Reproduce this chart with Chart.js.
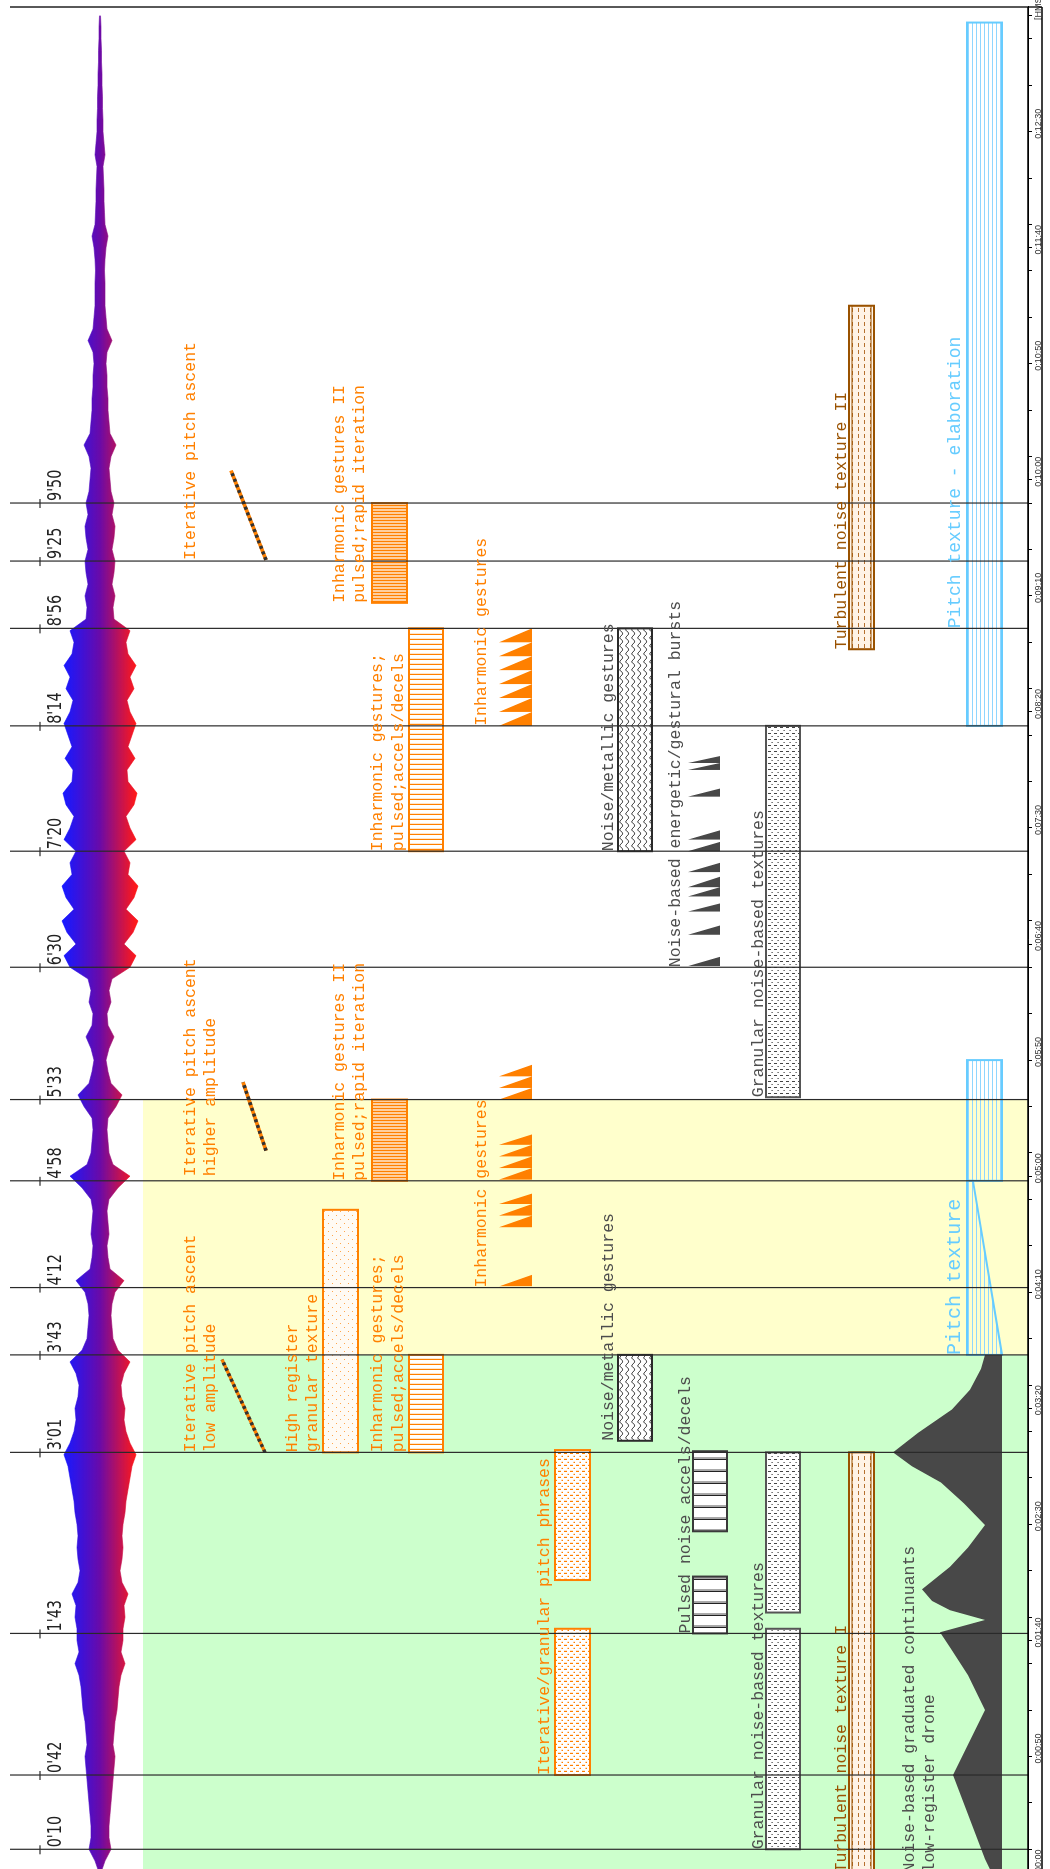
<!DOCTYPE html>
<html>
<head>
<meta charset="utf-8">
<title>Sonic structure map</title>
<script src="https://cdn.jsdelivr.net/npm/chart.js@4.4.1/dist/chart.umd.min.js"></script>
<style>
html,body{margin:0;padding:0;overflow:hidden;background:#fff;width:1050px;height:1869px}
#wrap{position:absolute;left:0;top:0;width:1880px;height:1050px;transform-origin:0 0;transform:translateY(1880px) rotate(-90deg)}
</style>
</head>
<body>
<div id="wrap"><canvas id="chart" width="1880" height="1050"></canvas></div>
<script>
// time (seconds) runs along x; the canvas is turned a quarter turn so time reads upward

// ---------- data ----------
const sectionTimes  = [10, 42, 103, 181, 223, 252, 298, 333, 390, 440, 494, 536, 565, 590];
const sectionLabels = ["0'10", "0'42", "1'43", "3'01", "3'43", "4'12", "4'58", "5'33", "6'30", "7'20", "8'14", "8'56", "9'25", "9'50"];

const zoneSpans = [[-5, 223], [223, 333]];

// waveform half-width, one value every 5 s from 0:00
const waveStep = 5;
const waveAmp = [
  1, 5, 11, 9, 9, 10, 11, 12, 13, 14, 15, 13, 14, 15, 17, 18, 19, 21, 25, 21,
  23, 23, 25, 24, 28, 22, 20, 22, 23, 22, 23, 25, 26, 28, 30, 32, 36, 30, 26, 24,
  25, 22, 21, 24, 30, 18, 13, 12, 11, 12, 15, 24, 10, 8, 7, 9, 8, 7, 9, 18,
  30, 13, 9, 8, 7, 8, 16, 22, 11, 8, 6, 9, 14, 8, 7, 11, 9, 12, 30, 36,
  24, 33, 38, 26, 34, 38, 28, 30, 24, 36, 30, 26, 34, 37, 28, 27, 35, 28, 32, 36,
  30, 27, 34, 30, 36, 28, 26, 30, 14, 13, 15, 12, 14, 15, 12, 14, 15, 12, 14, 11,
  10, 9, 11, 16, 10, 9, 8, 8, 7, 7, 6, 7, 12, 7, 6, 5, 5, 5, 4.5, 5,
  6, 8, 5, 4.5, 4, 4, 3.5, 3, 5, 4, 3, 3, 2.5, 2.5, 2, 2, 1.5, 1.5, 1, 1, 0.5
];

// low-register drone: time and left edge
const droneTimes  = [-5, 5.8, 42, 70, 85, 97, 103.5, 108.8, 113, 117, 122, 131.7, 140, 149.7, 159, 168, 175, 181, 189.4, 199.5, 208, 217, 223];
const droneLevels = [997, 985, 953, 985, 968, 950, 940, 985, 950, 932, 922, 950, 968, 985, 964, 941, 912, 893, 918, 952, 970, 981, 985];

const pitchPhraseSpans  = [[42, 105], [126, 182]];
const pulsedNoiseSpans  = [[103, 127.5], [147, 181.5]];
const granularSpans     = [[10, 105], [112, 181], [334, 494]];
const turbulentSpans    = [[-5, 181], [527, 675]];
const metallicSpans     = [[186, 223], [440, 536]];
const inharmPulsedSpans = [[181, 223], [440, 536]];
const inharmRapidSpans  = [[298, 333], [547, 590]];
const highRegisterSpans = [[181, 285.5]];
const pitchTextureSpans = [[298, 350], [494, 797]];
const pitchWedgeSpan    = [223, 298];

const ascentTimes = [[181, 221], [311, 340.5], [565.5, 604]];
const ascentLanes = [[265, 222], [266, 243], [266, 231]];

const inharmTeeth = [[252.5, 257.5], [278, 283], [283, 288], [288, 292.5],
  [298.5, 303.5], [303.5, 308.5], [308.5, 313.5], [313.5, 318],
  [333, 338], [338, 343], [343, 348],
  [494, 500], [500, 506], [506, 512], [512, 518], [518, 524], [524, 530], [530, 536]];
const burstTeeth = [[390.5, 394.5], [404, 408], [414, 417.5], [420.5, 424.5], [424.5, 429],
  [431, 435], [440, 444], [445, 449], [463.5, 467], [475, 478], [478, 481]];

// ---------- layout / style ----------
const ORANGE = '#ff8000', GREY = '#4d4d4d', BROWN = '#9a5200', BLUE = '#66ccff', DARK = '#484848';
const WAVE_MID = 100, DRONE_EDGE = 1002;
const MONO = '"Liberation Mono", monospace';

const zoneColors = ['#ccffcc', '#ffffcc'];

const boxLayers = [
  {spans: pitchPhraseSpans,  lanes: [555, 590], pat: 'phrase',    stroke: ORANGE},
  {spans: pulsedNoiseSpans,  lanes: [693, 727], pat: 'pulsed',    stroke: '#3a3a3a'},
  {spans: granularSpans,     lanes: [766, 800], pat: 'granular',  stroke: '#555'},
  {spans: turbulentSpans,    lanes: [849, 874], pat: 'turbulent', stroke: BROWN},
  {spans: metallicSpans,     lanes: [618, 652], pat: 'metallic',  stroke: '#2a2a2a'},
  {spans: inharmPulsedSpans, lanes: [409, 443], pat: 'inharm',    stroke: ORANGE},
  {spans: inharmRapidSpans,  lanes: [372, 407], pat: 'rapid',     stroke: ORANGE},
  {spans: highRegisterSpans, lanes: [323, 358], pat: 'high',      stroke: ORANGE},
  {spans: pitchTextureSpans, lanes: [967, 1002], pat: 'pitch',    stroke: BLUE}
];

const textLabels = [
  {lines: ['Iterative/granular pitch phrases'], t: 42, bases: [549], color: ORANGE},
  {lines: ['Pulsed noise accels/decels'], t: 103, bases: [690], color: GREY},
  {lines: ['Granular noise-based textures'], t: 10, bases: [763], color: GREY},
  {lines: ['Granular noise-based textures'], t: 334, bases: [763], color: GREY},
  {lines: ['Turbulent noise texture I'], t: 0, bases: [846], color: BROWN},
  {lines: ['Turbulent noise texture II'], t: 527, bases: [846], color: BROWN},
  {lines: ['Noise-based graduated continuants', 'low-register drone'], t: 0, bases: [914, 934], color: GREY},
  {lines: ['Noise/metallic gestures'], t: 186, bases: [613], color: GREY},
  {lines: ['Noise/metallic gestures'], t: 440, bases: [613], color: GREY},
  {lines: ['Inharmonic gestures;', 'pulsed;accels/decels'], t: 181, bases: [382, 403], color: ORANGE},
  {lines: ['Inharmonic gestures;', 'pulsed;accels/decels'], t: 440, bases: [382, 403], color: ORANGE},
  {lines: ['Inharmonic gestures II', 'pulsed;rapid iteration'], t: 298, bases: [344, 364], color: ORANGE},
  {lines: ['Inharmonic gestures II', 'pulsed;rapid iteration'], t: 547, bases: [344, 364], color: ORANGE},
  {lines: ['High register', 'granular texture'], t: 181, bases: [297, 317], color: ORANGE},
  {lines: ['Iterative pitch ascent', 'low amplitude'], t: 181, bases: [195, 215], color: ORANGE},
  {lines: ['Iterative pitch ascent', 'higher amplitude'], t: 300, bases: [195, 215], color: ORANGE},
  {lines: ['Iterative pitch ascent'], t: 565.5, bases: [195], color: ORANGE},
  {lines: ['Inharmonic gestures'], t: 252, bases: [486], color: ORANGE},
  {lines: ['Inharmonic gestures'], t: 494, bases: [486], color: ORANGE},
  {lines: ['Noise-based energetic/gestural bursts'], t: 390, bases: [680], color: GREY},
  {lines: ['Pitch texture'], t: 223, bases: [960], color: BLUE, size: 20},
  {lines: ['Pitch texture - elaboration'], t: 536, bases: [960], color: BLUE, size: 18}
];

const axisTicks = [];
for (let v = 0; v <= 800; v += 10) if (v % 50 === 0 || v % 20 === 10) axisTicks.push(v);

function hms(v) {
  if (v === 800) return '[HMS]';
  if (v % 50) return '';
  return '0:' + String(Math.floor(v / 60)).padStart(2, '0') + ':' + String(v % 60).padStart(2, '0');
}

// ---------- patterns ----------
function tile(w, h, bg, draw) {
  const c = document.createElement('canvas');
  c.width = w; c.height = h;
  const g = c.getContext('2d');
  if (bg) { g.fillStyle = bg; g.fillRect(0, 0, w, h); }
  draw(g);
  return c;
}
let pats = null;
function makePatterns(ctx) {
  const P = c => ctx.createPattern(c, 'repeat');
  return {
    phrase: P(tile(6, 6, '#fff', g => { g.fillStyle = ORANGE; g.fillRect(0, 0, 1.2, 3); g.fillRect(3, 3.5, 1.2, 1.5); })),
    granular: P(tile(6, 6, '#fff', g => { g.fillStyle = '#444'; g.fillRect(0, 0, 1, 3); g.fillRect(3, 3.5, 1, 1.2); })),
    turbulent: P(tile(7, 6, '#fff3e6', g => { g.fillStyle = '#b5702e'; g.fillRect(0, 0, 4, 1); })),
    high: P(tile(8, 8, '#fffaf4', g => { g.fillStyle = '#ffa64d'; g.fillRect(0, 0, 1, 1); g.fillRect(4, 4, 1, 1); })),
    pulsed: P(tile(12, 4, '#fff', g => { g.fillStyle = '#222'; g.fillRect(0, 0, 1.4, 4); g.fillStyle = '#aaa'; g.fillRect(2, 0, 1, 4); })),
    inharm: P(tile(5, 4, '#fff', g => { g.fillStyle = ORANGE; g.fillRect(0, 0, 1.2, 4); })),
    rapid: P(tile(3, 4, '#ffcf9e', g => { g.fillStyle = ORANGE; g.fillRect(0, 0, 1, 4); })),
    metallic: P(tile(8, 6, '#fff', g => {
      g.strokeStyle = '#333'; g.lineWidth = 0.9; g.beginPath();
      g.moveTo(0, 4); g.quadraticCurveTo(2, 0, 4, 3); g.quadraticCurveTo(6, 6, 8, 4); g.stroke();
    })),
    pitch: P(tile(4, 4, null, g => { g.fillStyle = '#8fd6ff'; g.fillRect(0, 0, 4, 1); }))
  };
}

// ---------- drawing plugin ----------
const notation = {
  id: 'notation',
  beforeDatasetsDraw(chart) {
    const ctx = chart.ctx, xs = chart.scales.x, ys = chart.scales.y;
    const X = v => xs.getPixelForValue(v), Y = v => ys.getPixelForValue(v);
    if (!pats) pats = makePatterns(ctx);
    ctx.save();
    zoneSpans.forEach((s, i) => {
      ctx.fillStyle = zoneColors[i];
      ctx.fillRect(X(s[0]), Y(143), X(s[1]) - X(s[0]), Y(1027.5) - Y(143));
    });
    boxLayers.forEach(L => L.spans.forEach(s => {
      const x0 = X(s[0]), x1 = X(s[1]), y0 = Y(L.lanes[0]), y1 = Y(L.lanes[1]);
      ctx.fillStyle = pats[L.pat];
      ctx.fillRect(x0, y0, x1 - x0, y1 - y0);
      ctx.strokeStyle = L.stroke; ctx.lineWidth = 2;
      ctx.strokeRect(x0, y0, x1 - x0, y1 - y0);
      if (L.pat === 'turbulent') {
        ctx.lineWidth = 1;
        ctx.strokeRect(x0, y0 + 3, x1 - x0, y1 - y0 - 6);
      }
    }));
    // wedge of the first pitch texture
    const w = pitchWedgeSpan;
    ctx.beginPath();
    ctx.moveTo(X(w[0]), Y(967)); ctx.lineTo(X(w[0]), Y(1002));
    ctx.lineTo(X(w[1]), Y(973)); ctx.lineTo(X(w[1]), Y(967)); ctx.closePath();
    ctx.fillStyle = pats.pitch; ctx.fill();
    ctx.strokeStyle = BLUE; ctx.lineWidth = 2; ctx.stroke();
    ctx.restore();
  },
  afterDatasetsDraw(chart) {
    const ctx = chart.ctx, xs = chart.scales.x, ys = chart.scales.y;
    const X = v => xs.getPixelForValue(v), Y = v => ys.getPixelForValue(v);
    const area = chart.chartArea;
    ctx.save();
    // section markers
    ctx.strokeStyle = '#2a2a2a'; ctx.lineWidth = 1.2;
    sectionTimes.forEach(t => {
      ctx.beginPath(); ctx.moveTo(X(t), Y(10)); ctx.lineTo(X(t), Y(1028)); ctx.stroke();
      ctx.beginPath(); ctx.moveTo(X(t) - 5, Y(40)); ctx.lineTo(X(t) + 4, Y(40)); ctx.stroke();
    });
    ctx.fillStyle = '#222'; ctx.font = '20px "DejaVu Sans"'; ctx.textBaseline = 'alphabetic';
    sectionTimes.forEach((t, i) => {
      ctx.save(); ctx.translate(X(t) + 2, Y(61)); ctx.scale(0.72, 1);
      ctx.fillText(sectionLabels[i], 0, 0); ctx.restore();
    });
    // annotations
    textLabels.forEach(L => {
      ctx.fillStyle = L.color; ctx.font = (L.size || 16.5) + 'px ' + MONO;
      L.lines.forEach((s, i) => ctx.fillText(s, X(L.t), Y(L.bases[i])));
    });
    // frame
    ctx.strokeStyle = '#000'; ctx.lineWidth = 1.3;
    ctx.beginPath();
    ctx.moveTo(area.right, Y(10)); ctx.lineTo(area.right, Y(1042));
    ctx.moveTo(0, Y(1042)); ctx.lineTo(area.right, Y(1042));
    ctx.moveTo(0, Y(1028)); ctx.lineTo(area.right, Y(1028));
    ctx.stroke();
    ctx.restore();
  }
};

// ---------- datasets ----------
function waveFill(c) {
  const chart = c.chart;
  if (!chart.chartArea) return '#6a0aa8';
  const y = chart.scales.y;
  const g = chart.ctx.createLinearGradient(0, y.getPixelForValue(WAVE_MID - 36), 0, y.getPixelForValue(WAVE_MID + 36));
  g.addColorStop(0, 'rgba(0,0,255,0.9)');
  g.addColorStop(0.5, '#6a0aa8');
  g.addColorStop(1, 'rgba(255,0,0,0.9)');
  return g;
}
const wave = sign => waveAmp.map((a, i) => ({x: i * waveStep, y: WAVE_MID + sign * a}));
const teeth = (list, back, tip) => list.flatMap(([a, b]) => [{x: a, y: back}, {x: a, y: tip}, {x: b, y: back}]);
const plain = {pointRadius: 0, tension: 0, borderWidth: 0};

const datasets = [
  Object.assign({data: wave(-1), fill: {value: WAVE_MID}, backgroundColor: waveFill, borderColor: waveFill, order: 5}, plain, {borderWidth: 0.6}),
  Object.assign({data: wave(1), fill: {value: WAVE_MID}, backgroundColor: waveFill, borderColor: waveFill, order: 5}, plain, {borderWidth: 0.6}),
  Object.assign({data: droneTimes.map((t, i) => ({x: t, y: droneLevels[i]})), fill: {value: DRONE_EDGE}, backgroundColor: DARK, order: 5}, plain),
  Object.assign({data: teeth(inharmTeeth, 532, 499), fill: {value: 532}, backgroundColor: ORANGE, order: 4}, plain),
  Object.assign({data: teeth(burstTeeth, 720, 688), fill: {value: 720}, backgroundColor: DARK, order: 4}, plain)
];
ascentTimes.forEach((tt, i) => {
  const pts = [{x: tt[0], y: ascentLanes[i][0]}, {x: tt[1], y: ascentLanes[i][1]}];
  datasets.push({data: pts, borderColor: ORANGE, borderWidth: 3.5, pointRadius: 0, fill: false, order: 2, borderCapStyle: 'butt'});
  datasets.push({data: pts, borderColor: '#333', borderWidth: 3.5, borderDash: [3, 3], pointRadius: 0, fill: false, order: 1, borderCapStyle: 'butt'});
});

new Chart(document.getElementById('chart'), {
  type: 'line',
  data: {datasets},
  options: {
    responsive: false,
    animation: false,
    events: [],
    layout: {padding: {left: 7.5, right: 7, top: 0, bottom: 8}},
    plugins: {legend: {display: false}, tooltip: {enabled: false}},
    scales: {
      x: {
        type: 'linear', min: 0, max: 803.7, position: 'bottom',
        afterBuildTicks: s => { s.ticks = axisTicks.map(v => ({value: v})); },
        afterFit: s => { s.height = 14; s.paddingLeft = 0; s.paddingRight = 0; },
        grid: {display: true, drawOnChartArea: false, drawTicks: true, tickLength: 4, color: '#000', lineWidth: 1},
        border: {display: true, color: '#000', width: 1},
        ticks: {autoSkip: false, maxRotation: 0, minRotation: 0, padding: 1, labelOffset: 8, color: '#333',
          font: {family: 'Liberation Sans', size: 9}, callback: v => hms(v)}
      },
      y: {type: 'linear', min: 0, max: 1028, reverse: true, display: false}
    }
  },
  plugins: [notation]
});
</script>
</body>
</html>
